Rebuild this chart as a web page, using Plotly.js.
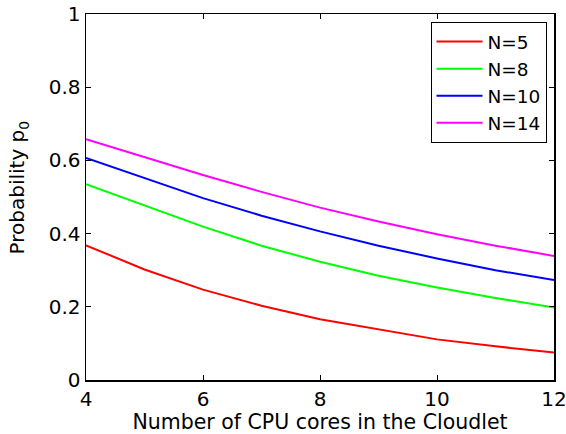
<!DOCTYPE html>
<html>
<head>
<meta charset="utf-8">
<script src="https://cdn.plot.ly/plotly-3.0.1.min.js"></script>
<style>html,body{margin:0;padding:0;background:#fff;}#chart{width:566px;height:434px;}</style>
</head>
<body>
<div id="chart"></div>
<script>
const cores = [4, 5, 6, 7, 8, 9, 10, 11, 12];
const seriesNames = ["N=5", "N=8", "N=10", "N=14"];
const pN5  = [0.368, 0.302, 0.247, 0.203, 0.166, 0.138, 0.111, 0.092, 0.075];
const pN8  = [0.535, 0.476, 0.419, 0.367, 0.323, 0.285, 0.253, 0.224, 0.198];
const pN10 = [0.607, 0.551, 0.497, 0.449, 0.406, 0.367, 0.332, 0.300, 0.273];
const pN14 = [0.658, 0.609, 0.560, 0.514, 0.471, 0.433, 0.398, 0.367, 0.339];
const colors = ["#ff0000", "#00ff00", "#0000ff", "#ff00ff"];
const values = [pN5, pN8, pN10, pN14];
const xTitle = "Number of CPU cores in the Cloudlet";
const yTitle = "Probability p<sub>0</sub>";

const traces = values.map((v, i) => ({
  x: cores, y: v, type: "scatter", mode: "lines", name: seriesNames[i],
  line: {color: colors[i], width: 2}
}));

const font = {family: "DejaVu Sans, Liberation Sans, Arial, sans-serif", color: "#000"};
const layout = {
  width: 566, height: 434,
  margin: {l: 86, r: 12, t: 14, b: 54},
  paper_bgcolor: "#fff", plot_bgcolor: "#fff",
  font: Object.assign({size: 20}, font),
  showlegend: true,
  legend: {x: 0.984, y: 0.978, xanchor: "right", yanchor: "top",
    bordercolor: "#000", borderwidth: 1, bgcolor: "#fff", itemwidth: 46,
    font: Object.assign({size: 18.5}, font), tracegroupgap: 0},
  xaxis: {range: [4, 12], tickvals: [4, 6, 8, 10, 12], ticktext: ["4","6","8","10","12"],
    ticks: "inside", ticklen: 5, tickcolor: "#000", tickwidth: 1,
    showline: true, linecolor: "#000", linewidth: 1.5, mirror: "ticks",
    showgrid: false, zeroline: false, ticklabeloverflow: "allow",
    tickfont: Object.assign({size: 20}, font),
    title: {text: xTitle, font: Object.assign({size: 20.5}, font), standoff: 1}},
  yaxis: {range: [0, 1], tickvals: [0, 0.2, 0.4, 0.6, 0.8, 1], ticktext: ["0","0.2","0.4","0.6","0.8","1"],
    ticks: "inside", ticklen: 5, tickcolor: "#000", tickwidth: 1,
    showline: true, linecolor: "#000", linewidth: 1.5, mirror: "ticks",
    showgrid: false, zeroline: false, ticklabeloverflow: "allow",
    tickfont: Object.assign({size: 20}, font)},
  annotations: [{text: yTitle, xref: "paper", yref: "paper", x: -0.1432, y: 0.526,
    xanchor: "center", yanchor: "middle", textangle: -90, showarrow: false,
    font: Object.assign({size: 20}, font)}]
};
Plotly.newPlot("chart", traces, layout, {staticPlot: true, displayModeBar: false});
</script>
</body>
</html>
